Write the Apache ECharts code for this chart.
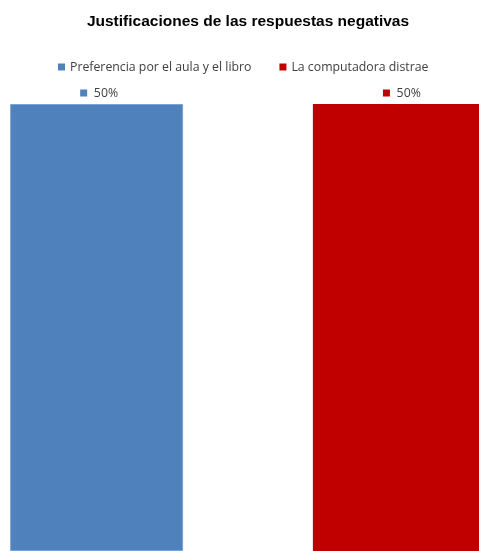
<!DOCTYPE html>
<html><head><meta charset="utf-8">
<script src="https://cdn.jsdelivr.net/npm/echarts@6/dist/echarts.min.js"></script>
<style>html,body{margin:0;padding:0;background:#fff;overflow:hidden}#c{width:490px;height:551px}</style>
</head><body><div id="c"></div>
<script>
const categories = ['Justificaciones'];
const seriesNames = ['Preferencia por el aula y el libro', 'La computadora distrae'];
const valuesAula = [50];
const valuesDistrae = [50];
const colors = ['#4F81BD', '#C00000'];

const chart = echarts.init(document.getElementById('c'));
function mkLabel(color) {
  return {
    show: true, position: 'top', distance: 5, offset: [2.5, 0],
    formatter: p => '{s|}  {v|' + p.value + '%}',
    rich: {
      s: { backgroundColor: color, width: 7, height: 7 },
      v: { fontFamily: 'Open Sans', fontSize: 12.3, color: '#404040' }
    }
  };
}
chart.setOption({
  animation: false,
  title: {
    text: 'Justificaciones de las respuestas negativas',
    left: 243, textAlign: 'center', top: 9,
    textStyle: { fontFamily: 'Liberation Sans', fontWeight: 'bold', fontSize: 15.5, color: '#000' }
  },
  legend: {
    top: 56, left: 53, itemWidth: 7, itemHeight: 7, itemGap: 28, icon: 'rect',
    itemStyle: { borderWidth: 0 },
    textStyle: { fontFamily: 'Open Sans', fontSize: 12.3, color: '#404040' },
    data: seriesNames
  },
  grid: { left: 10, right: 4, top: 104, bottom: 0, containLabel: false },
  xAxis: { type: 'category', data: categories, show: false },
  yAxis: { type: 'value', min: 0, max: 50, show: false },
  series: [
    { name: seriesNames[0], type: 'bar', data: valuesAula, barWidth: 173, barGap: '75%',
      itemStyle: { color: colors[0], borderColor: '#7da3d3', borderWidth: 1 }, label: mkLabel(colors[0]) },
    { name: seriesNames[1], type: 'bar', data: valuesDistrae, barWidth: 173,
      itemStyle: { color: colors[1] }, label: mkLabel(colors[1]) }
  ]
});
</script></body></html>
